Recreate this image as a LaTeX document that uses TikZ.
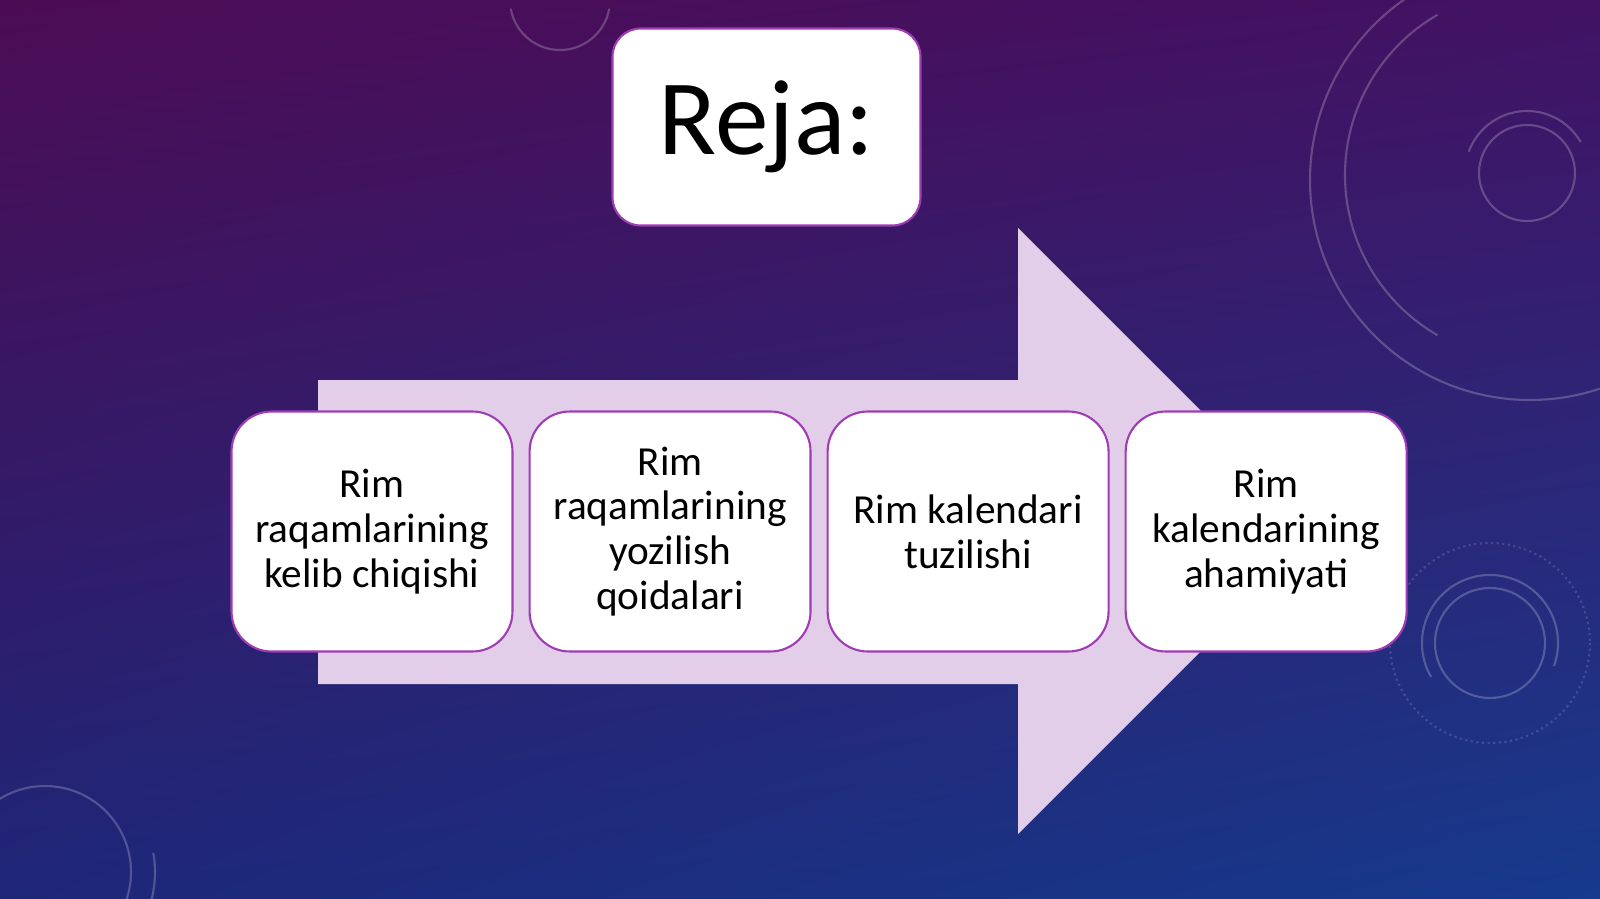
\documentclass[tikz,border=0pt]{standalone}
\usepackage{fontspec}
\setmainfont{Carlito}
\usetikzlibrary{positioning, shadings}

\definecolor{bgTL}{RGB}{76,12,84}
\definecolor{bgTR}{RGB}{66,18,100}
\definecolor{bgBL}{RGB}{30,38,120}
\definecolor{bgBR}{RGB}{22,58,140}
\definecolor{arrowfill}{RGB}{227,206,234}
\definecolor{boxline}{RGB}{160,60,180}

\tikzset{
  ring/.style={white, opacity=0.22, line width=1.2pt},
  planbox/.style={draw=boxline, line width=1.2pt, fill=white, rounded corners=0.8cm,
    minimum width=5.62cm, minimum height=4.8cm, align=center,
    font=\fontsize{23.5}{25.5}\selectfont},
  titlebox/.style={draw=boxline, line width=1.2pt, fill=white, rounded corners=0.56cm,
    minimum width=6.16cm, minimum height=3.94cm, font=\fontsize{61}{73}\selectfont}
}

\begin{document}
\begin{tikzpicture}[x=0.02cm, y=-0.02cm]

% Background
\useasboundingbox (0,0) rectangle (1600,899);
\shade[upper left=bgTL, upper right=bgTR, lower left=bgBL, lower right=bgBR]
  (0,0) rectangle (1600,899);

% Faint rings in the background
\draw[ring] (1530,180) circle (220);
\draw[ring] (1345,175) arc (180:120:185);
\draw[ring] (1345,175) arc (180:240:185);
\draw[ring] (1527,173) circle (48);
\draw[ring] (1527,173) ++(200:62) arc (200:330:62);
\draw[ring] (1490,643) circle (55);
\draw[ring] (1490,643) ++(150:68) arc (150:380:68);
\draw[ring, dotted, opacity=0.15] (1490,643) circle (100);
\draw[ring] (45,872) circle (86);
\draw[ring] (45,872) ++(-10:110) arc (-10:110:110);
\draw[ring] (560,0) ++(10:50) arc (10:170:50);

% Define the corners of the arrow
\coordinate (S1) at (318,380);
\coordinate (S2) at (1018,380);
\coordinate (H1) at (1018,228);
\coordinate (T) at (1321,531);
\coordinate (H2) at (1018,834);
\coordinate (S3) at (1018,684);
\coordinate (S4) at (318,684);

% Draw the arrow
\fill[arrowfill] (S1) -- (S2) -- (H1) -- (T) -- (H2) -- (S3) -- (S4) -- cycle;

% Title
\node[titlebox] (title) at (766.5,127) {\raisebox{-0.2cm}{Reja:}};

% The four boxes on the arrow
\node[planbox] (origin) at (372,531.5) {Rim\\raqamlarining\\kelib chiqishi};
\node[planbox, right=0.3cm of origin] (writing) {Rim\\raqamlarining\\yozilish\\qoidalari};
\node[planbox, right=0.3cm of writing] (calendar) {Rim kalendari\\tuzilishi};
\node[planbox, right=0.3cm of calendar] (meaning) {Rim\\kalendarining\\ahamiyati};

\end{tikzpicture}
\end{document}
